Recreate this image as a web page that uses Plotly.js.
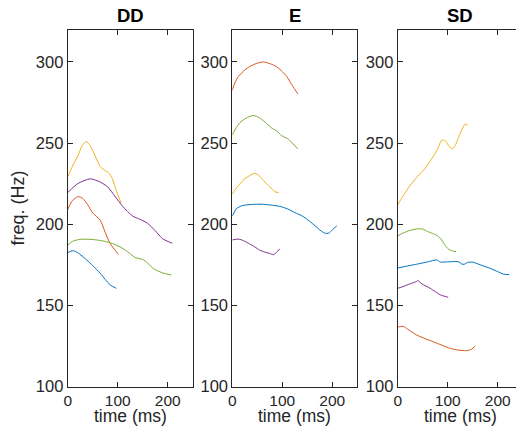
<!DOCTYPE html>
<html><head><meta charset="utf-8">
<script src="https://cdn.plot.ly/plotly-3.0.1.min.js"></script>
<style>html,body{margin:0;padding:0;overflow:hidden;background:#fff}#plot{width:540px;height:427px}</style>
</head><body><div id="plot"></div>
<script>
// Panel titles, axis titles and axis ticks
const panelTitles = ["DD", "E", "SD"];
const xTitle = "time (ms)";
const yTitle = "freq. (Hz)";
const xTicks = [0, 100, 200];
const yTicks = [100, 150, 200, 250, 300];

// DD panel
const ddBlueT = [0, 10, 20, 38, 50, 65, 75, 85, 97];
const ddBlueF = [182.5, 183.7, 182.5, 178, 174.5, 169.8, 166, 162.6, 160.5];
const ddRedT = [0, 8, 20, 30, 40, 50, 65, 75, 85, 95, 101];
const ddRedF = [209, 214, 217, 216, 212, 207, 202.5, 195, 188, 184, 181.5];
const ddYellowT = [0, 10, 20, 30, 37, 45, 55, 65, 75, 80, 88, 98, 107];
const ddYellowF = [229.3, 236, 242, 249, 250.9, 248.5, 242, 235.5, 233, 232.3, 229, 220, 213];
const ddPurpleT = [0, 20, 45, 65, 80, 95, 110, 130, 145, 160, 175, 190, 209];
const ddPurpleF = [219.5, 225, 228, 226, 223, 217, 211, 205, 203, 200.5, 196, 191, 188.3];
const ddGreenT = [0, 10, 25, 45, 65, 85, 105, 120, 135, 150, 160, 172, 190, 207];
const ddGreenF = [187, 189.5, 190.7, 190.7, 190, 188.6, 186, 183, 179.5, 178.3, 176, 172.5, 170, 168.7];

// E panel
const eBlueT = [0, 8, 20, 40, 62, 80, 95, 110, 125, 142, 160, 175, 185, 193, 200, 209];
const eBlueF = [205, 209.5, 211.5, 212.2, 212.3, 211.7, 211, 209.5, 207.2, 204.7, 200.5, 196.5, 194.5, 194.5, 196.5, 199];
const eRedT = [0, 5, 12, 25, 35, 50, 62, 75, 89, 100, 109, 120, 131];
const eRedF = [282.5, 287, 291, 295, 297.2, 299.3, 300, 299, 297, 294, 291, 285.5, 280.3];
const eYellowT = [0, 10, 25, 45, 55, 65, 75, 85, 93];
const eYellowF = [218.5, 223, 228, 231.4, 229.5, 226, 223, 220, 219.5];
const ePurpleT = [0, 8, 15, 25, 35, 45, 55, 65, 75, 82, 88, 95];
const ePurpleF = [190.3, 190.8, 190.7, 189.5, 187.8, 186, 184, 182.8, 182, 181.2, 182.5, 184.8];
const eGreenT = [0, 8, 15, 28, 42, 55, 69, 80, 89, 97, 105, 112, 120, 131];
const eGreenF = [255, 259.5, 262.5, 265.5, 267, 265.5, 262, 259, 257.5, 255, 253.5, 252.5, 250, 246.5];

// SD panel
const sdBlueT = [0, 20, 40, 60, 78, 85, 100, 115, 122, 128, 133, 140, 150, 165, 185, 200, 211, 223];
const sdBlueF = [173, 174.3, 175.5, 176.8, 178, 176.7, 176.8, 177, 176.8, 175.5, 175.3, 176.5, 176.6, 175, 172.8, 170.8, 169.3, 168.9];
const sdRedT = [0, 5, 12, 20, 38, 55, 71, 88, 105, 118, 131, 140, 148, 155];
const sdRedF = [136.5, 137, 137, 135.3, 131.7, 129.5, 127.6, 125.5, 123.5, 122.6, 122.1, 122.2, 123, 125];
const sdYellowT = [0, 10, 25, 40, 55, 65, 75, 82, 88, 95, 103, 110, 115, 125, 132, 136, 139];
const sdYellowF = [212, 217, 224, 229.5, 234.5, 239, 243.7, 248, 251.8, 251.5, 248, 246.5, 248.5, 256, 260.5, 262, 260.5];
const sdPurpleT = [0, 10, 25, 38, 41, 45, 52, 65, 75, 85, 95, 101];
const sdPurpleF = [160.5, 161.5, 163.3, 164.8, 165.4, 164, 162.6, 160.5, 158.5, 156.5, 155.5, 155];
const sdGreenT = [0, 10, 25, 40, 50, 60, 72, 80, 88, 95, 102, 110, 117];
const sdGreenF = [192.8, 194.5, 196.2, 197.2, 197, 195.5, 194, 192.8, 190.3, 187, 184.5, 183.5, 183.1];

const colors = {blue: "#0072BD", red: "#D95319", yellow: "#EDB120", purple: "#7E2F8E", green: "#77AC30"};

function tr(x, y, c, ax) {
  return {x: x, y: y, type: "scatter", mode: "lines", xaxis: "x" + ax, yaxis: "y" + ax,
    line: {color: colors[c], width: 1, shape: "spline", smoothing: 0.6}, showlegend: false, hoverinfo: "skip"};
}

const data = [
  tr(ddBlueT, ddBlueF, "blue", ""), tr(ddRedT, ddRedF, "red", ""), tr(ddYellowT, ddYellowF, "yellow", ""),
  tr(ddPurpleT, ddPurpleF, "purple", ""), tr(ddGreenT, ddGreenF, "green", ""),
  tr(eBlueT, eBlueF, "blue", "2"), tr(eRedT, eRedF, "red", "2"), tr(eYellowT, eYellowF, "yellow", "2"),
  tr(ePurpleT, ePurpleF, "purple", "2"), tr(eGreenT, eGreenF, "green", "2"),
  tr(sdBlueT, sdBlueF, "blue", "3"), tr(sdRedT, sdRedF, "red", "3"), tr(sdYellowT, sdYellowF, "yellow", "3"),
  tr(sdPurpleT, sdPurpleF, "purple", "3"), tr(sdGreenT, sdGreenF, "green", "3")
];

const W = 540, H = 427;
const axCol = "#262626";
const fontFam = "Liberation Sans, Arial, Helvetica, sans-serif";
const yDom = [(H - 386.5) / H, (H - 29.5) / H];
const xLefts = [67.7, 232.3, 397.7];
const pw = 125;

function xax(i) {
  return {domain: [xLefts[i] / W, (xLefts[i] + pw) / W], range: [0, 250], tickvals: xTicks,
    ticks: "inside", ticklen: 5, tickcolor: axCol, showline: true, mirror: "ticks", linecolor: axCol, linewidth: 1,
    showgrid: false, zeroline: false, tickfont: {size: 15.5, color: axCol, family: fontFam},
    anchor: i === 0 ? "y" : "y" + (i + 1)};
}
function yax(i) {
  return {domain: yDom, range: [100, 320], tickvals: yTicks,
    ticks: "inside", ticklen: 5, tickcolor: axCol, showline: true, mirror: "ticks", linecolor: axCol, linewidth: 1,
    showgrid: false, zeroline: false, tickfont: {size: 16.5, color: axCol, family: fontFam},
    anchor: i === 0 ? "x" : "x" + (i + 1)};
}

const titleAnn = panelTitles.map((t, i) => ({
  text: "<b>" + t + "</b>", xref: "paper", yref: "paper",
  x: (xLefts[i] + pw / 2) / W, y: (H - 15.5) / H, xanchor: "center", yanchor: "middle",
  showarrow: false, font: {size: 18.5, color: "#000", family: fontFam}
}));
const xTitleAnn = panelTitles.map((t, i) => ({
  text: xTitle, xref: "paper", yref: "paper",
  x: (xLefts[i] + pw / 2) / W, y: 0, xanchor: "center", yanchor: "bottom", borderpad: 0,
  showarrow: false, font: {size: 17.5, color: axCol, family: fontFam}
}));

const layout = {
  width: W, height: H, margin: {l: 0, r: 0, t: 0, b: 0},
  paper_bgcolor: "#fff", plot_bgcolor: "#fff",
  font: {family: fontFam, color: axCol},
  xaxis: xax(0), xaxis2: xax(1), xaxis3: xax(2),
  yaxis: Object.assign(yax(0), {title: {text: yTitle, font: {size: 18, color: axCol, family: fontFam}, standoff: 6}}),
  yaxis2: yax(1), yaxis3: yax(2),
  annotations: titleAnn.concat(xTitleAnn)
};

Plotly.newPlot("plot", data, layout, {staticPlot: true});
</script></body></html>
